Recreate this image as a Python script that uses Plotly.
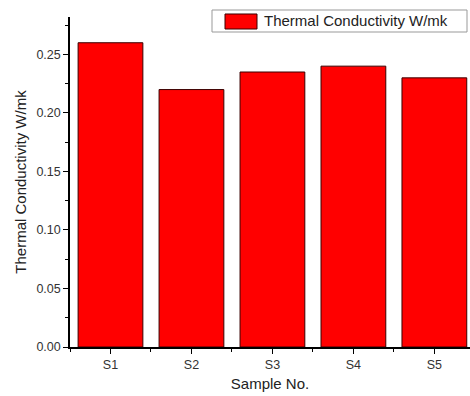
import plotly.graph_objects as go

categories = ["S1", "S2", "S3", "S4", "S5"]
values = [0.26, 0.22, 0.235, 0.24, 0.23]
series_name = "Thermal Conductivity W/mk"
y_ticks = [0.00, 0.05, 0.10, 0.15, 0.20, 0.25]

xpos = list(range(len(categories)))
bar_color = "#ff0000"
edge_color = "#3a0000"

fig = go.Figure()
fig.add_trace(go.Bar(
    x=xpos, y=values, name=series_name, width=0.8,
    marker=dict(color=bar_color, line=dict(color=edge_color, width=1)),
    showlegend=False,
))

font = "Liberation Sans, Arial, sans-serif"

# hand-drawn legend (box, swatch, label) in paper coordinates
fig.add_shape(type="rect", xref="paper", yref="paper",
              x0=0.355, x1=0.9925, y0=0.9545, y1=1.0212,
              line=dict(color="#999", width=1), fillcolor="white", layer="above")
fig.add_shape(type="rect", xref="paper", yref="paper",
              x0=0.3875, x1=0.4675, y0=0.9636, y1=1.0091,
              line=dict(color=edge_color, width=1), fillcolor=bar_color, layer="above")
fig.add_annotation(xref="paper", yref="paper", x=0.48, y=0.9879,
                   xanchor="left", yanchor="middle", showarrow=False,
                   text=series_name, font=dict(size=15, family=font, color="#222"))

fig.update_layout(
    width=470, height=396,
    margin=dict(l=70, r=0, t=17, b=49),
    paper_bgcolor="white", plot_bgcolor="white",
    font=dict(family=font, color="#222"),
    showlegend=False,
    xaxis=dict(
        range=[-0.5, 4.44],
        tickmode="array", tickvals=xpos, ticktext=categories,
        ticks="outside", ticklen=5, tickwidth=1.2, tickcolor="black",
        showline=True, linecolor="black", linewidth=1.5,
        showgrid=False, zeroline=False,
        tickfont=dict(size=12.5, color="#333"),
        title=dict(text="Sample No.", font=dict(size=15, color="#222"), standoff=8),
        minor=dict(tick0=-0.5, dtick=1, ticks="outside", ticklen=3, tickcolor="black", showgrid=False),
    ),
    yaxis=dict(
        range=[0, 0.282],
        tickmode="array", tickvals=y_ticks, ticktext=[f"{v:.2f}" for v in y_ticks],
        ticks="outside", ticklen=5, tickwidth=1.2, tickcolor="black",
        showline=True, linecolor="black", linewidth=1.5,
        showgrid=False, zeroline=False,
        tickfont=dict(size=12.5, color="#333"),
        title=dict(text=series_name, font=dict(size=15, color="#222"), standoff=6),
        minor=dict(tickmode="linear", tick0=0.025, dtick=0.05, ticks="outside", ticklen=3, tickcolor="black", showgrid=False),
    ),
)

fig.write_html("out.html", config={"displayModeBar": False},
               post_script="document.body.style.margin='0px';")
